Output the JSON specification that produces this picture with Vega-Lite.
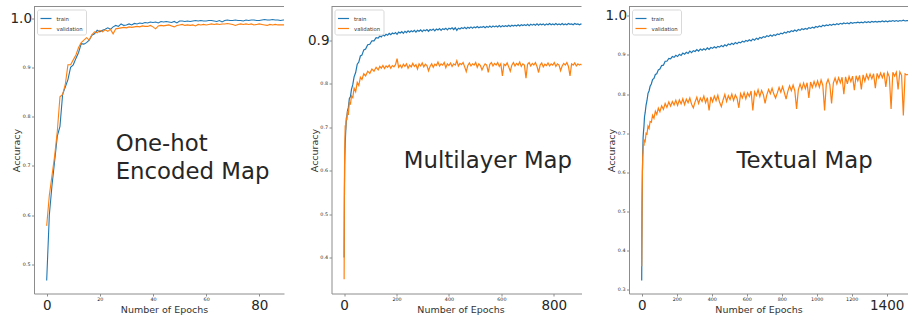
{
  "$schema": "https://vega.github.io/schema/vega-lite/v6.json",
  "padding": {"left": 10, "top": 5.5, "right": 0, "bottom": 0},
  "background": "white",
  "datasets": {
    "p1": [
      {"epoch":0,"train":0.467,"validation":0.578},{"epoch":1,"train":0.600,"validation":0.640},{"epoch":2,"train":0.660,"validation":0.680},{"epoch":3,"train":0.710,"validation":0.720},{"epoch":4,"train":0.760,"validation":0.770},{"epoch":5,"train":0.780,"validation":0.840},{"epoch":6,"train":0.845,"validation":0.845},{"epoch":7,"train":0.860,"validation":0.865},{"epoch":8,"train":0.875,"validation":0.905},{"epoch":9,"train":0.900,"validation":0.905},
      {"epoch":10,"train":0.905,"validation":0.915},{"epoch":11,"train":0.918,"validation":0.925},{"epoch":12,"train":0.930,"validation":0.940},{"epoch":13,"train":0.948,"validation":0.950},{"epoch":14,"train":0.947,"validation":0.955},{"epoch":15,"train":0.950,"validation":0.960},{"epoch":16,"train":0.955,"validation":0.955},{"epoch":17,"train":0.965,"validation":0.966},{"epoch":18,"train":0.968,"validation":0.972},{"epoch":19,"train":0.975,"validation":0.970},
      {"epoch":20,"train":0.972,"validation":0.975},{"epoch":21,"train":0.975,"validation":0.972},{"epoch":22,"train":0.977,"validation":0.976},{"epoch":23,"train":0.980,"validation":0.973},{"epoch":24,"train":0.977,"validation":0.977},{"epoch":25,"train":0.982,"validation":0.968},{"epoch":26,"train":0.985,"validation":0.978},{"epoch":27,"train":0.983,"validation":0.979},{"epoch":28,"train":0.988,"validation":0.980},{"epoch":29,"train":0.985,"validation":0.981},
      {"epoch":30,"train":0.986,"validation":0.980},{"epoch":31,"train":0.988,"validation":0.982},{"epoch":32,"train":0.986,"validation":0.981},{"epoch":33,"train":0.989,"validation":0.982},{"epoch":34,"train":0.988,"validation":0.983},{"epoch":35,"train":0.990,"validation":0.982},{"epoch":36,"train":0.989,"validation":0.984},{"epoch":37,"train":0.991,"validation":0.983},{"epoch":38,"train":0.990,"validation":0.983},{"epoch":39,"train":0.992,"validation":0.985},
      {"epoch":40,"train":0.991,"validation":0.982},{"epoch":41,"train":0.992,"validation":0.978},{"epoch":42,"train":0.990,"validation":0.984},{"epoch":43,"train":0.993,"validation":0.985},{"epoch":44,"train":0.992,"validation":0.984},{"epoch":45,"train":0.993,"validation":0.985},{"epoch":46,"train":0.992,"validation":0.986},{"epoch":47,"train":0.991,"validation":0.984},{"epoch":48,"train":0.993,"validation":0.982},{"epoch":49,"train":0.990,"validation":0.985},
      {"epoch":50,"train":0.994,"validation":0.986},{"epoch":51,"train":0.994,"validation":0.987},{"epoch":52,"train":0.993,"validation":0.985},{"epoch":53,"train":0.994,"validation":0.986},{"epoch":54,"train":0.993,"validation":0.985},{"epoch":55,"train":0.994,"validation":0.986},{"epoch":56,"train":0.995,"validation":0.984},{"epoch":57,"train":0.994,"validation":0.987},{"epoch":58,"train":0.995,"validation":0.986},{"epoch":59,"train":0.994,"validation":0.987},
      {"epoch":60,"train":0.994,"validation":0.986},{"epoch":61,"train":0.995,"validation":0.987},{"epoch":62,"train":0.995,"validation":0.988},{"epoch":63,"train":0.994,"validation":0.987},{"epoch":64,"train":0.993,"validation":0.988},{"epoch":65,"train":0.995,"validation":0.987},{"epoch":66,"train":0.992,"validation":0.988},{"epoch":67,"train":0.995,"validation":0.988},{"epoch":68,"train":0.996,"validation":0.989},{"epoch":69,"train":0.995,"validation":0.988},
      {"epoch":70,"train":0.995,"validation":0.987},{"epoch":71,"train":0.996,"validation":0.985},{"epoch":72,"train":0.995,"validation":0.987},{"epoch":73,"train":0.995,"validation":0.988},{"epoch":74,"train":0.994,"validation":0.987},{"epoch":75,"train":0.996,"validation":0.988},{"epoch":76,"train":0.995,"validation":0.987},{"epoch":77,"train":0.996,"validation":0.988},{"epoch":78,"train":0.996,"validation":0.986},{"epoch":79,"train":0.995,"validation":0.987},
      {"epoch":80,"train":0.995,"validation":0.988},{"epoch":81,"train":0.996,"validation":0.987},{"epoch":82,"train":0.997,"validation":0.986},{"epoch":83,"train":0.996,"validation":0.985},{"epoch":84,"train":0.996,"validation":0.987},{"epoch":85,"train":0.997,"validation":0.986},{"epoch":86,"train":0.996,"validation":0.987},{"epoch":87,"train":0.996,"validation":0.986},{"epoch":88,"train":0.995,"validation":0.986},{"epoch":89,"train":0.996,"validation":0.986},{"epoch":90,"train":0.996,"validation":0.986}
    ],
    "p2": [
      {"epoch":0,"train":0.400,"validation":0.350},{"epoch":1,"train":0.530,"validation":0.560},{"epoch":2,"train":0.612,"validation":0.640},{"epoch":3,"train":0.640,"validation":0.672},{"epoch":4,"train":0.662,"validation":0.700},{"epoch":6,"train":0.690,"validation":0.698},{"epoch":8,"train":0.712,"validation":0.722},{"epoch":10,"train":0.722,"validation":0.716},{"epoch":13,"train":0.738,"validation":0.738},{"epoch":16,"train":0.745,"validation":0.728},
      {"epoch":20,"train":0.766,"validation":0.758},{"epoch":24,"train":0.770,"validation":0.752},{"epoch":28,"train":0.787,"validation":0.772},{"epoch":33,"train":0.798,"validation":0.768},{"epoch":38,"train":0.816,"validation":0.790},{"epoch":44,"train":0.826,"validation":0.782},{"epoch":50,"train":0.845,"validation":0.803},{"epoch":56,"train":0.850,"validation":0.796},{"epoch":62,"train":0.864,"validation":0.815},{"epoch":68,"train":0.866,"validation":0.810},
      {"epoch":75,"train":0.878,"validation":0.823},{"epoch":82,"train":0.880,"validation":0.818},{"epoch":90,"train":0.890,"validation":0.829},{"epoch":98,"train":0.891,"validation":0.824},{"epoch":106,"train":0.899,"validation":0.834},{"epoch":114,"train":0.899,"validation":0.829},{"epoch":122,"train":0.906,"validation":0.838},{"epoch":130,"train":0.905,"validation":0.832},{"epoch":136,"train":0.910,"validation":0.840},{"epoch":142,"train":0.908,"validation":0.836},
      {"epoch":148,"train":0.913,"validation":0.842},{"epoch":154,"train":0.910,"validation":0.835},{"epoch":160,"train":0.914,"validation":0.841},{"epoch":166,"train":0.912,"validation":0.838},{"epoch":172,"train":0.916,"validation":0.843},{"epoch":178,"train":0.913,"validation":0.836},{"epoch":184,"train":0.917,"validation":0.842},{"epoch":190,"train":0.915,"validation":0.839},{"epoch":196,"train":0.918,"validation":0.844},{"epoch":202,"train":0.914,"validation":0.858},
      {"epoch":208,"train":0.919,"validation":0.838},{"epoch":214,"train":0.917,"validation":0.843},{"epoch":220,"train":0.920,"validation":0.837},{"epoch":226,"train":0.916,"validation":0.845},{"epoch":232,"train":0.921,"validation":0.840},{"epoch":238,"train":0.918,"validation":0.846},{"epoch":244,"train":0.922,"validation":0.836},{"epoch":250,"train":0.919,"validation":0.843},{"epoch":256,"train":0.922,"validation":0.839},{"epoch":262,"train":0.920,"validation":0.847},
      {"epoch":268,"train":0.923,"validation":0.840},{"epoch":274,"train":0.919,"validation":0.844},{"epoch":280,"train":0.923,"validation":0.834},{"epoch":286,"train":0.921,"validation":0.846},{"epoch":292,"train":0.924,"validation":0.841},{"epoch":298,"train":0.920,"validation":0.848},{"epoch":304,"train":0.924,"validation":0.839},{"epoch":310,"train":0.922,"validation":0.845},{"epoch":316,"train":0.925,"validation":0.842},{"epoch":322,"train":0.921,"validation":0.830},
      {"epoch":328,"train":0.925,"validation":0.840},{"epoch":334,"train":0.923,"validation":0.846},{"epoch":340,"train":0.926,"validation":0.838},{"epoch":346,"train":0.922,"validation":0.845},{"epoch":352,"train":0.926,"validation":0.842},{"epoch":358,"train":0.924,"validation":0.850},{"epoch":364,"train":0.927,"validation":0.841},{"epoch":370,"train":0.923,"validation":0.846},{"epoch":376,"train":0.927,"validation":0.843},{"epoch":382,"train":0.925,"validation":0.849},
      {"epoch":388,"train":0.928,"validation":0.837},{"epoch":394,"train":0.924,"validation":0.846},{"epoch":400,"train":0.928,"validation":0.842},{"epoch":406,"train":0.926,"validation":0.848},{"epoch":412,"train":0.929,"validation":0.840},{"epoch":418,"train":0.925,"validation":0.846},{"epoch":424,"train":0.929,"validation":0.843},{"epoch":430,"train":0.923,"validation":0.853},{"epoch":436,"train":0.928,"validation":0.841},{"epoch":442,"train":0.926,"validation":0.847},
      {"epoch":448,"train":0.929,"validation":0.844},{"epoch":454,"train":0.927,"validation":0.849},{"epoch":460,"train":0.930,"validation":0.839},{"epoch":466,"train":0.927,"validation":0.828},{"epoch":472,"train":0.930,"validation":0.842},{"epoch":478,"train":0.928,"validation":0.848},{"epoch":484,"train":0.931,"validation":0.841},{"epoch":490,"train":0.928,"validation":0.846},{"epoch":496,"train":0.931,"validation":0.843},{"epoch":502,"train":0.929,"validation":0.849},
      {"epoch":508,"train":0.932,"validation":0.838},{"epoch":514,"train":0.929,"validation":0.846},{"epoch":520,"train":0.931,"validation":0.842},{"epoch":526,"train":0.930,"validation":0.832},{"epoch":532,"train":0.932,"validation":0.840},{"epoch":538,"train":0.929,"validation":0.846},{"epoch":544,"train":0.932,"validation":0.843},{"epoch":550,"train":0.930,"validation":0.826},{"epoch":556,"train":0.933,"validation":0.845},{"epoch":562,"train":0.930,"validation":0.849},
      {"epoch":568,"train":0.933,"validation":0.841},{"epoch":574,"train":0.931,"validation":0.847},{"epoch":580,"train":0.933,"validation":0.843},{"epoch":586,"train":0.931,"validation":0.849},{"epoch":592,"train":0.934,"validation":0.840},{"epoch":598,"train":0.931,"validation":0.846},{"epoch":604,"train":0.934,"validation":0.818},{"epoch":610,"train":0.932,"validation":0.845},{"epoch":616,"train":0.934,"validation":0.842},{"epoch":622,"train":0.932,"validation":0.848},
      {"epoch":628,"train":0.935,"validation":0.839},{"epoch":634,"train":0.932,"validation":0.829},{"epoch":640,"train":0.935,"validation":0.843},{"epoch":646,"train":0.933,"validation":0.849},{"epoch":652,"train":0.935,"validation":0.841},{"epoch":658,"train":0.933,"validation":0.847},{"epoch":664,"train":0.936,"validation":0.843},{"epoch":670,"train":0.933,"validation":0.850},{"epoch":676,"train":0.936,"validation":0.840},{"epoch":682,"train":0.934,"validation":0.846},
      {"epoch":688,"train":0.936,"validation":0.843},{"epoch":694,"train":0.934,"validation":0.813},{"epoch":700,"train":0.937,"validation":0.845},{"epoch":706,"train":0.934,"validation":0.849},{"epoch":712,"train":0.937,"validation":0.841},{"epoch":718,"train":0.935,"validation":0.847},{"epoch":724,"train":0.937,"validation":0.843},{"epoch":730,"train":0.935,"validation":0.849},{"epoch":736,"train":0.938,"validation":0.840},{"epoch":742,"train":0.935,"validation":0.826},
      {"epoch":748,"train":0.938,"validation":0.843},{"epoch":754,"train":0.936,"validation":0.848},{"epoch":760,"train":0.938,"validation":0.839},{"epoch":766,"train":0.935,"validation":0.845},{"epoch":772,"train":0.938,"validation":0.842},{"epoch":778,"train":0.936,"validation":0.848},{"epoch":784,"train":0.939,"validation":0.841},{"epoch":790,"train":0.936,"validation":0.846},{"epoch":796,"train":0.938,"validation":0.843},{"epoch":802,"train":0.936,"validation":0.849},
      {"epoch":808,"train":0.939,"validation":0.840},{"epoch":814,"train":0.936,"validation":0.846},{"epoch":820,"train":0.938,"validation":0.843},{"epoch":826,"train":0.936,"validation":0.830},{"epoch":832,"train":0.939,"validation":0.841},{"epoch":838,"train":0.936,"validation":0.847},{"epoch":844,"train":0.938,"validation":0.843},{"epoch":850,"train":0.936,"validation":0.849},{"epoch":856,"train":0.939,"validation":0.840},{"epoch":862,"train":0.937,"validation":0.818},
      {"epoch":868,"train":0.938,"validation":0.846},{"epoch":874,"train":0.936,"validation":0.843},{"epoch":880,"train":0.939,"validation":0.848},{"epoch":886,"train":0.937,"validation":0.841},{"epoch":892,"train":0.938,"validation":0.846},{"epoch":898,"train":0.936,"validation":0.843},{"epoch":904,"train":0.938,"validation":0.845},{"epoch":910,"train":0.937,"validation":0.842}
    ],
    "p3": [
      {"epoch":0,"train":0.323,"validation":0.360},{"epoch":2,"train":0.500,"validation":0.520},{"epoch":4,"train":0.600,"validation":0.598},{"epoch":6,"train":0.652,"validation":0.640},{"epoch":8,"train":0.688,"validation":0.655},{"epoch":10,"train":0.702,"validation":0.672},{"epoch":13,"train":0.718,"validation":0.668},{"epoch":16,"train":0.742,"validation":0.684},{"epoch":20,"train":0.753,"validation":0.680},{"epoch":25,"train":0.772,"validation":0.700},
      {"epoch":30,"train":0.783,"validation":0.698},{"epoch":36,"train":0.802,"validation":0.718},{"epoch":42,"train":0.808,"validation":0.712},{"epoch":48,"train":0.820,"validation":0.730},{"epoch":55,"train":0.826,"validation":0.728},{"epoch":62,"train":0.837,"validation":0.746},{"epoch":70,"train":0.840,"validation":0.738},{"epoch":78,"train":0.850,"validation":0.756},{"epoch":86,"train":0.852,"validation":0.748},{"epoch":95,"train":0.862,"validation":0.764},
      {"epoch":104,"train":0.864,"validation":0.755},{"epoch":114,"train":0.873,"validation":0.770},{"epoch":124,"train":0.874,"validation":0.761},{"epoch":134,"train":0.884,"validation":0.776},{"epoch":144,"train":0.884,"validation":0.766},{"epoch":155,"train":0.891,"validation":0.780},{"epoch":165,"train":0.890,"validation":0.769},{"epoch":175,"train":0.896,"validation":0.781},{"epoch":185,"train":0.894,"validation":0.772},{"epoch":195,"train":0.899,"validation":0.784},
      {"epoch":205,"train":0.896,"validation":0.771},{"epoch":215,"train":0.902,"validation":0.785},{"epoch":225,"train":0.899,"validation":0.775},{"epoch":235,"train":0.905,"validation":0.788},{"epoch":245,"train":0.902,"validation":0.773},{"epoch":255,"train":0.907,"validation":0.787},{"epoch":265,"train":0.904,"validation":0.778},{"epoch":275,"train":0.910,"validation":0.790},{"epoch":285,"train":0.906,"validation":0.774},{"epoch":295,"train":0.911,"validation":0.765},
      {"epoch":305,"train":0.909,"validation":0.780},{"epoch":315,"train":0.914,"validation":0.792},{"epoch":325,"train":0.910,"validation":0.776},{"epoch":335,"train":0.915,"validation":0.790},{"epoch":345,"train":0.912,"validation":0.781},{"epoch":355,"train":0.916,"validation":0.795},{"epoch":365,"train":0.913,"validation":0.778},{"epoch":375,"train":0.918,"validation":0.791},{"epoch":385,"train":0.914,"validation":0.758},{"epoch":395,"train":0.919,"validation":0.793},
      {"epoch":405,"train":0.917,"validation":0.780},{"epoch":415,"train":0.921,"validation":0.795},{"epoch":425,"train":0.918,"validation":0.783},{"epoch":435,"train":0.922,"validation":0.797},{"epoch":445,"train":0.920,"validation":0.779},{"epoch":455,"train":0.924,"validation":0.768},{"epoch":465,"train":0.921,"validation":0.785},{"epoch":475,"train":0.926,"validation":0.799},{"epoch":485,"train":0.923,"validation":0.781},{"epoch":495,"train":0.928,"validation":0.796},
      {"epoch":505,"train":0.926,"validation":0.786},{"epoch":515,"train":0.930,"validation":0.800},{"epoch":525,"train":0.927,"validation":0.784},{"epoch":535,"train":0.932,"validation":0.798},{"epoch":545,"train":0.929,"validation":0.789},{"epoch":555,"train":0.933,"validation":0.765},{"epoch":565,"train":0.931,"validation":0.801},{"epoch":575,"train":0.935,"validation":0.790},{"epoch":585,"train":0.933,"validation":0.804},{"epoch":595,"train":0.937,"validation":0.788},
      {"epoch":605,"train":0.935,"validation":0.803},{"epoch":615,"train":0.939,"validation":0.794},{"epoch":625,"train":0.936,"validation":0.808},{"epoch":635,"train":0.941,"validation":0.758},{"epoch":645,"train":0.938,"validation":0.806},{"epoch":655,"train":0.943,"validation":0.796},{"epoch":665,"train":0.940,"validation":0.811},{"epoch":675,"train":0.945,"validation":0.794},{"epoch":685,"train":0.943,"validation":0.809},{"epoch":695,"train":0.947,"validation":0.799},
      {"epoch":705,"train":0.945,"validation":0.776},{"epoch":715,"train":0.949,"validation":0.798},{"epoch":725,"train":0.947,"validation":0.812},{"epoch":735,"train":0.951,"validation":0.801},{"epoch":745,"train":0.948,"validation":0.815},{"epoch":755,"train":0.952,"validation":0.800},{"epoch":765,"train":0.950,"validation":0.790},{"epoch":775,"train":0.954,"validation":0.803},{"epoch":785,"train":0.952,"validation":0.817},{"epoch":795,"train":0.956,"validation":0.805},
      {"epoch":805,"train":0.954,"validation":0.819},{"epoch":815,"train":0.958,"validation":0.804},{"epoch":825,"train":0.956,"validation":0.787},{"epoch":835,"train":0.960,"validation":0.807},{"epoch":845,"train":0.958,"validation":0.821},{"epoch":855,"train":0.962,"validation":0.809},{"epoch":865,"train":0.960,"validation":0.823},{"epoch":875,"train":0.964,"validation":0.808},{"epoch":885,"train":0.961,"validation":0.762},{"epoch":895,"train":0.965,"validation":0.811},
      {"epoch":905,"train":0.963,"validation":0.826},{"epoch":915,"train":0.967,"validation":0.812},{"epoch":925,"train":0.965,"validation":0.828},{"epoch":935,"train":0.968,"validation":0.814},{"epoch":945,"train":0.966,"validation":0.829},{"epoch":955,"train":0.970,"validation":0.790},{"epoch":965,"train":0.968,"validation":0.831},{"epoch":975,"train":0.971,"validation":0.817},{"epoch":985,"train":0.969,"validation":0.832},{"epoch":995,"train":0.973,"validation":0.819},
      {"epoch":1005,"train":0.971,"validation":0.834},{"epoch":1015,"train":0.974,"validation":0.818},{"epoch":1025,"train":0.972,"validation":0.836},{"epoch":1035,"train":0.976,"validation":0.822},{"epoch":1045,"train":0.974,"validation":0.758},{"epoch":1055,"train":0.977,"validation":0.826},{"epoch":1065,"train":0.975,"validation":0.838},{"epoch":1075,"train":0.978,"validation":0.824},{"epoch":1085,"train":0.976,"validation":0.776},{"epoch":1095,"train":0.979,"validation":0.828},
      {"epoch":1105,"train":0.977,"validation":0.841},{"epoch":1115,"train":0.980,"validation":0.826},{"epoch":1125,"train":0.978,"validation":0.842},{"epoch":1135,"train":0.981,"validation":0.829},{"epoch":1145,"train":0.979,"validation":0.843},{"epoch":1155,"train":0.982,"validation":0.800},{"epoch":1165,"train":0.980,"validation":0.844},{"epoch":1175,"train":0.982,"validation":0.826},{"epoch":1185,"train":0.980,"validation":0.845},{"epoch":1195,"train":0.983,"validation":0.832},
      {"epoch":1205,"train":0.981,"validation":0.846},{"epoch":1215,"train":0.983,"validation":0.810},{"epoch":1225,"train":0.982,"validation":0.847},{"epoch":1235,"train":0.984,"validation":0.834},{"epoch":1245,"train":0.982,"validation":0.848},{"epoch":1255,"train":0.984,"validation":0.812},{"epoch":1265,"train":0.982,"validation":0.849},{"epoch":1275,"train":0.985,"validation":0.833},{"epoch":1285,"train":0.983,"validation":0.850},{"epoch":1295,"train":0.985,"validation":0.838},
      {"epoch":1305,"train":0.983,"validation":0.851},{"epoch":1315,"train":0.986,"validation":0.839},{"epoch":1325,"train":0.984,"validation":0.852},{"epoch":1335,"train":0.986,"validation":0.815},{"epoch":1345,"train":0.984,"validation":0.853},{"epoch":1355,"train":0.986,"validation":0.841},{"epoch":1365,"train":0.985,"validation":0.854},{"epoch":1375,"train":0.987,"validation":0.842},{"epoch":1385,"train":0.985,"validation":0.855},{"epoch":1395,"train":0.987,"validation":0.818},
      {"epoch":1405,"train":0.985,"validation":0.855},{"epoch":1415,"train":0.987,"validation":0.844},{"epoch":1425,"train":0.986,"validation":0.762},{"epoch":1435,"train":0.988,"validation":0.856},{"epoch":1445,"train":0.986,"validation":0.846},{"epoch":1455,"train":0.988,"validation":0.856},{"epoch":1465,"train":0.986,"validation":0.812},{"epoch":1475,"train":0.988,"validation":0.857},{"epoch":1485,"train":0.987,"validation":0.848},{"epoch":1495,"train":0.989,"validation":0.745},
      {"epoch":1505,"train":0.987,"validation":0.852},{"epoch":1515,"train":0.988,"validation":0.849},{"epoch":1525,"train":0.988,"validation":0.851}
    ]
  },
  "spacing": 47.5,
  "bounds": "flush",
  "resolve": {"scale": {"x": "independent", "y": "independent", "color": "independent"}, "legend": {"color": "independent"}},
  "hconcat": [
    {
      "width": 250, "height": 287,
      "layer": [
        {
          "data": {"name": "p1"},
          "transform": [{"fold": ["train", "validation"], "as": ["series", "acc"]}],
          "mark": {"type": "line", "strokeWidth": 1.1, "clip": true},
          "encoding": {
            "x": {"field": "epoch", "type": "quantitative", "scale": {"domain": [-4.77, 89.3], "nice": false, "zero": false},
                  "axis": {"title": "Number of Epochs", "values": [0, 20, 40, 60, 80], "tickCount": 20, "format": "d", "labelOverlap": false, "titleX": 130, "titleY": 18.7, "titleBaseline": "alphabetic",
                           "labelFontSize": {"condition": {"test": "datum.value == 0 || datum.value == 80", "value": 13.5}, "value": 4.8},
                           "labelPadding": {"condition": {"test": "datum.value == 0 || datum.value == 80", "value": 2.7}, "value": 0.8}}},
            "y": {"field": "acc", "type": "quantitative", "scale": {"domain": [0.4406, 1.0234], "nice": false, "zero": false},
                  "axis": {"title": "Accuracy", "values": [0.5, 0.6, 0.7, 0.8, 0.9, 1.0], "tickCount": 20, "format": ".1f", "labelOverlap": false, "titleX": -17.5, "titleBaseline": "middle",
                           "labelFontSize": {"condition": {"test": "datum.value == 1", "value": 13.5}, "value": 4.8},
                           "labelPadding": {"condition": {"test": "datum.value == 1", "value": 0}, "value": 1.5}}},
            "color": {"field": "series", "type": "nominal", "scale": {"domain": ["train", "validation"], "range": ["#1f77b4", "#ff7f0e"]}, "legend": {"title": null}}
          }
        },
        {"data": {"values": [{}]}, "mark": {"type": "rule", "color": "#8c8c8c", "strokeWidth": 1}, "encoding": {"y": {"datum": 1.0234}}},
        {"data": {"values": [{}]}, "mark": {"type": "text", "align": "left", "baseline": "alphabetic", "fontSize": 22.8, "lineHeight": 27.8, "color": "#262626", "font": "DejaVu Sans"},
         "encoding": {"x": {"datum": 25.97}, "y": {"datum": 0.7303}, "text": {"value": ["One-hot", "Encoded Map"]}}}
      ]
    },
    {
      "width": 250, "height": 287,
      "layer": [
        {
          "data": {"name": "p2"},
          "transform": [{"fold": ["train", "validation"], "as": ["series", "acc"]}],
          "mark": {"type": "line", "strokeWidth": 1.2, "clip": true},
          "encoding": {
            "x": {"field": "epoch", "type": "quantitative", "scale": {"domain": [-48.2, 905.8], "nice": false, "zero": false},
                  "axis": {"title": "Number of Epochs", "values": [0, 200, 400, 600, 800], "tickCount": 20, "format": "d", "labelOverlap": false, "titleX": 129, "titleY": 18.7, "titleBaseline": "alphabetic",
                           "labelFontSize": {"condition": {"test": "datum.value == 0 || datum.value == 800", "value": 13.5}, "value": 4.8},
                           "labelPadding": {"condition": {"test": "datum.value == 0 || datum.value == 800", "value": 2.7}, "value": 0.8}}},
            "y": {"field": "acc", "type": "quantitative", "scale": {"domain": [0.317, 0.978], "nice": false, "zero": false},
                  "axis": {"title": "Accuracy", "values": [0.4, 0.5, 0.6, 0.7, 0.8, 0.9], "tickCount": 20, "format": ".1f", "labelOverlap": false, "titleX": -17.5, "titleBaseline": "middle",
                           "labelFontSize": {"condition": {"test": "abs(datum.value - 0.9) < 0.000001", "value": 13.5}, "value": 4.8},
                           "labelPadding": {"condition": {"test": "abs(datum.value - 0.9) < 0.000001", "value": 0}, "value": 1.5}}},
            "color": {"field": "series", "type": "nominal", "scale": {"domain": ["train", "validation"], "range": ["#1f77b4", "#ff7f0e"]}, "legend": {"title": null}}
          }
        },
        {"data": {"values": [{}]}, "mark": {"type": "rule", "color": "#8c8c8c", "strokeWidth": 1}, "encoding": {"y": {"datum": 0.978}}},
        {"data": {"values": [{}]}, "mark": {"type": "text", "align": "left", "baseline": "alphabetic", "fontSize": 22.8, "color": "#262626", "font": "DejaVu Sans"},
         "encoding": {"x": {"datum": 227.6}, "y": {"datum": 0.6056}, "text": {"value": "Multilayer Map"}}}
      ]
    },
    {
      "width": 280, "height": 287,
      "layer": [
        {
          "data": {"name": "p3"},
          "transform": [{"fold": ["train", "validation"], "as": ["series", "acc"]}],
          "mark": {"type": "line", "strokeWidth": 1.2, "clip": true},
          "encoding": {
            "x": {"field": "epoch", "type": "quantitative", "scale": {"domain": [-72.6, 1527.4], "nice": false, "zero": false},
                  "axis": {"title": "Number of Epochs", "values": [0, 200, 400, 600, 800, 1000, 1200, 1400], "tickCount": 20, "format": "d", "labelOverlap": false, "titleX": 129.5, "titleY": 18.7, "titleBaseline": "alphabetic",
                           "labelFontSize": {"condition": {"test": "datum.value == 0 || datum.value == 1400", "value": 13.5}, "value": 4.8},
                           "labelPadding": {"condition": {"test": "datum.value == 0 || datum.value == 1400", "value": 2.7}, "value": 0.8}}},
            "y": {"field": "acc", "type": "quantitative", "scale": {"domain": [0.29, 1.024], "nice": false, "zero": false},
                  "axis": {"title": "Accuracy", "values": [0.3, 0.4, 0.5, 0.6, 0.7, 0.8, 0.9, 1.0], "tickCount": 20, "format": ".1f", "labelOverlap": false, "titleX": -18, "titleBaseline": "middle",
                           "labelFontSize": {"condition": {"test": "datum.value == 1", "value": 13.5}, "value": 4.8},
                           "labelPadding": {"condition": {"test": "datum.value == 1", "value": 0}, "value": 1.5}}},
            "color": {"field": "series", "type": "nominal", "scale": {"domain": ["train", "validation"], "range": ["#1f77b4", "#ff7f0e"]}, "legend": {"title": null}}
          }
        },
        {"data": {"values": [{}]}, "mark": {"type": "rule", "color": "#8c8c8c", "strokeWidth": 1}, "encoding": {"y": {"datum": 1.024}}},
        {"data": {"values": [{}]}, "mark": {"type": "text", "align": "left", "baseline": "alphabetic", "fontSize": 22.8, "color": "#262626", "font": "DejaVu Sans"},
         "encoding": {"x": {"datum": 541.7}, "y": {"datum": 0.6107}, "text": {"value": "Textual Map"}}}
      ]
    }
  ],
  "config": {
    "view": {"stroke": null},
    "font": "DejaVu Sans",
    "axis": {"grid": false, "domainColor": "#8c8c8c", "tickColor": "#8c8c8c", "tickSize": 2.5, "labelColor": "#262626", "titleColor": "#333333", "titleFontSize": 9.5, "titleFontWeight": "normal", "labelOverlap": false, "labelFlush": false, "labelBound": false, "labelFont": "DejaVu Sans", "titleFont": "DejaVu Sans"},
    "legend": {"orient": "top-left", "offset": 2.5, "padding": 2.5, "strokeColor": "#d9d9d9", "fillColor": "#ffffff", "cornerRadius": 2, "labelFontSize": 5.3, "labelColor": "#333333", "labelFont": "DejaVu Sans", "symbolType": "stroke", "symbolSize": 121, "symbolStrokeWidth": 1.2, "labelOffset": 4, "rowPadding": -3.5}
  }
}
